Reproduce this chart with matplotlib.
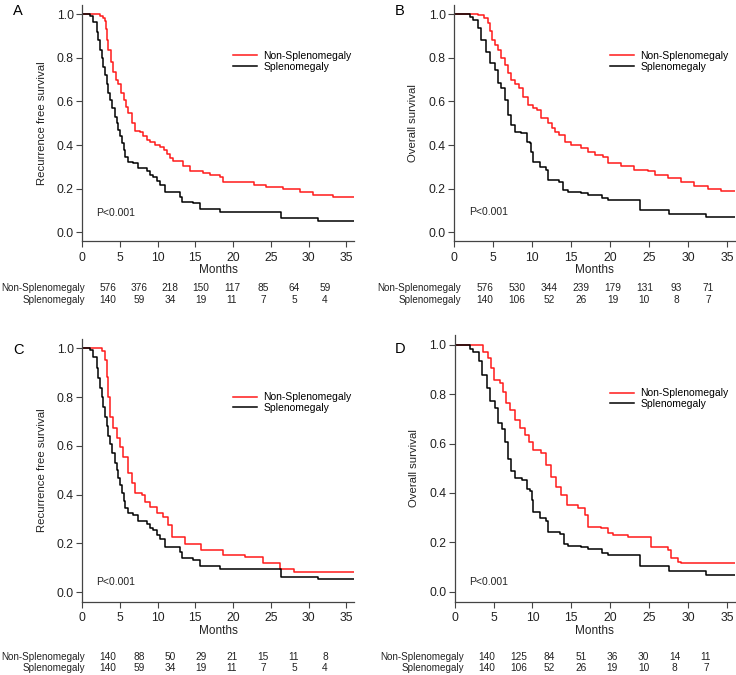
import matplotlib
matplotlib.use('Agg')
import matplotlib.pyplot as plt
import numpy as np

plt.rcParams['font.family'] = ['Liberation Sans', 'DejaVu Sans']

# --- Kaplan-Meier step data (months, survival) ---
# A: RFS, all patients, Non-Splenomegaly
rfs_non_all_t = [0, 2.4, 2.8, 3.0, 3.2, 3.35, 3.5, 3.8, 4.1, 4.5, 4.8, 5.2, 5.5, 5.8, 6.1, 6.6, 7.0, 7.7,
                 8.1, 8.6, 9.0, 9.7, 10.3, 10.8, 11.2, 11.7, 12.1, 13.4, 14.3, 16.0, 17.0, 18.3, 18.7,
                 20.9, 22.7, 24.4, 26.6, 28.8, 30.6, 33.2]
rfs_non_all_s = [1.0, 0.99, 0.98, 0.97, 0.93, 0.88, 0.835, 0.78, 0.736, 0.70, 0.68, 0.64, 0.606, 0.575,
                 0.545, 0.50, 0.466, 0.46, 0.44, 0.425, 0.415, 0.40, 0.39, 0.375, 0.36, 0.34, 0.325,
                 0.305, 0.28, 0.27, 0.262, 0.255, 0.232, 0.229, 0.217, 0.209, 0.197, 0.186, 0.171, 0.163]
# A / C: RFS, Splenomegaly
rfs_sp_t = [0, 1.06, 1.5, 1.94, 2.15, 2.38, 2.6, 2.8, 3.0, 3.26, 3.5, 3.7, 4.0, 4.37, 4.6, 4.8, 5.0,
            5.25, 5.5, 5.7, 6.1, 6.8, 7.45, 8.55, 9.0, 9.4, 9.9, 10.3, 11.0, 13.0, 13.2, 14.7, 15.6,
            18.3, 26.4, 31.3]
rfs_sp_s = [1.0, 0.993, 0.965, 0.919, 0.88, 0.835, 0.80, 0.759, 0.72, 0.68, 0.64, 0.606, 0.57, 0.53,
            0.50, 0.469, 0.44, 0.408, 0.375, 0.347, 0.324, 0.316, 0.293, 0.28, 0.265, 0.255, 0.235,
            0.217, 0.186, 0.163, 0.14, 0.133, 0.107, 0.095, 0.064, 0.053]
# B: OS, all patients, Non-Splenomegaly
os_non_all_t = [0, 3.07, 3.9, 4.3, 4.6, 4.9, 5.2, 5.6, 6.06, 6.5, 6.9, 7.3, 7.8, 8.3, 8.8, 9.5, 10.1,
                10.6, 11.2, 12.0, 12.5, 12.9, 13.5, 14.2, 15.0, 16.3, 17.2, 18.0, 19.1, 19.7, 21.4,
                23.1, 24.8, 25.7, 27.4, 29.1, 30.8, 32.5, 34.2]
os_non_all_s = [1.0, 0.995, 0.98, 0.957, 0.92, 0.88, 0.86, 0.835, 0.80, 0.766, 0.73, 0.698, 0.68,
                0.66, 0.62, 0.583, 0.57, 0.56, 0.522, 0.50, 0.476, 0.46, 0.446, 0.415, 0.40, 0.385,
                0.369, 0.354, 0.347, 0.316, 0.305, 0.285, 0.282, 0.263, 0.247, 0.229, 0.214, 0.2, 0.19]
# B / D: OS, Splenomegaly
os_sp_t = [0, 2.0, 2.4, 3.07, 3.5, 4.1, 4.6, 5.2, 5.6, 6.06, 6.5, 6.9, 7.3, 7.8, 8.6, 9.3, 9.7, 9.9,
           10.1, 11.0, 11.8, 12.0, 13.5, 14.0, 14.6, 16.3, 17.2, 18.9, 19.7, 23.8, 27.6, 32.3]
os_sp_s = [1.0, 0.985, 0.972, 0.934, 0.88, 0.827, 0.774, 0.743, 0.682, 0.66, 0.606, 0.537, 0.49,
           0.46, 0.453, 0.415, 0.408, 0.37, 0.324, 0.30, 0.285, 0.24, 0.232, 0.194, 0.183, 0.179,
           0.171, 0.156, 0.148, 0.102, 0.082, 0.069]
# C: RFS, matched, Non-Splenomegaly
rfs_non_m_t = [0, 2.6, 3.04, 3.26, 3.48, 3.7, 4.14, 4.6, 5.0, 5.47, 6.13, 6.57, 7.0, 7.9, 8.3, 9.0,
               9.9, 10.76, 11.4, 11.86, 13.6, 15.8, 18.7, 21.6, 24.0, 26.2, 28.0]
rfs_non_m_s = [1.0, 0.99, 0.952, 0.884, 0.80, 0.72, 0.672, 0.63, 0.597, 0.556, 0.487, 0.446, 0.405,
               0.40, 0.371, 0.35, 0.323, 0.31, 0.275, 0.228, 0.197, 0.173, 0.152, 0.146, 0.118,
               0.095, 0.084]
# D: OS, matched, Non-Splenomegaly
os_non_m_t = [0, 3.6, 4.28, 4.7, 5.05, 5.78, 6.2, 6.6, 7.06, 7.7, 8.34, 9.0, 9.6, 10.06, 11.1, 11.8,
              12.4, 13.05, 13.7, 14.5, 15.8, 16.7, 17.1, 18.8, 19.7, 20.3, 22.25, 25.2, 27.4, 27.8,
              28.7, 29.1]
os_non_m_s = [1.0, 0.973, 0.946, 0.905, 0.858, 0.845, 0.811, 0.764, 0.736, 0.696, 0.662, 0.635,
              0.608, 0.574, 0.561, 0.514, 0.466, 0.426, 0.392, 0.351, 0.338, 0.311, 0.264, 0.257,
              0.236, 0.23, 0.223, 0.182, 0.169, 0.135, 0.122, 0.115]

# numbers at risk at 0, 5, ..., 35 months
risk_times = [0, 5, 10, 15, 20, 25, 30, 35]
risk_A_non = [576, 376, 218, 150, 117, 85, 64, 59]
risk_A_sp = [140, 59, 34, 19, 11, 7, 5, 4]
risk_B_non = [576, 530, 344, 239, 179, 131, 93, 71]
risk_B_sp = [140, 106, 52, 26, 19, 10, 8, 7]
risk_C_non = [140, 88, 50, 29, 21, 15, 11, 8]
risk_C_sp = [140, 59, 34, 19, 11, 7, 5, 4]
risk_D_non = [140, 125, 84, 51, 36, 30, 14, 11]
risk_D_sp = [140, 106, 52, 26, 19, 10, 8, 7]

W, H = 736, 675
fig = plt.figure(figsize=(W / 100, H / 100), dpi=100)

def px(x0, top, x1, bottom):
    return [x0 / W, 1 - bottom / H, (x1 - x0) / W, (bottom - top) / H]

axcol = '#444444'
txtcol = '#222222'
red = '#ff1a1a'

def km_panel(rect, letter, letter_xy, ylabel, red_curve, black_curve, leg_y, p_y,
             risk, risk_x, label_x, rows_y):
    ax = fig.add_axes(px(*rect))
    for (t, s), col, lab in ((red_curve, red, 'Non-Splenomegaly'),
                             (black_curve, 'black', 'Splenomegaly')):
        tt = list(t) + [36]
        ss = list(s) + [s[-1]]
        ax.step(tt, ss, where='post', color=col, lw=1.1, label=lab)
    ax.set_xlim(0, 36)
    ax.set_ylim(-0.04, 1.04)
    ax.set_xticks(range(0, 36, 5))
    ax.set_yticks(np.arange(0, 1.01, 0.2))
    ax.set_yticklabels(['%.1f' % v for v in np.arange(0, 1.01, 0.2)])
    for sp in ('top', 'right'):
        ax.spines[sp].set_visible(False)
    for sp in ('left', 'bottom'):
        ax.spines[sp].set_color(axcol)
        ax.spines[sp].set_linewidth(0.9)
    ax.tick_params(direction='out', length=4, width=0.8, color=axcol,
                   labelsize=8.8, labelcolor=txtcol, pad=2)
    ax.tick_params(axis='x', pad=3.5)
    ax.set_xlabel('Months', fontsize=8.5, color=txtcol, labelpad=0.5)
    ax.set_ylabel(ylabel, fontsize=8.2, color=txtcol)
    ax.yaxis.set_label_coords(-0.128, 0.5)
    ax.text(0.053, p_y, 'P<0.001', transform=ax.transAxes, fontsize=7.5,
            color=txtcol, va='center', ha='left')
    ax.legend(loc='upper left', bbox_to_anchor=(0.555, leg_y), frameon=False,
              fontsize=7.5, handlelength=2.3, handletextpad=0.6, labelspacing=0.05,
              borderpad=0, borderaxespad=0)
    fig.text(letter_xy[0] / W, 1 - letter_xy[1] / H, letter, fontsize=10.5,
             va='center', ha='center')

    # numbers-at-risk table
    rax = fig.add_axes(px(risk_x[0], rows_y[0] - 10, risk_x[1], rows_y[1] + 10))
    rax.set_xlim(0, 35)
    rax.set_ylim(rows_y[1] + 10, rows_y[0] - 10)
    rax.axis('off')
    for row, yy in zip(risk, rows_y):
        for t, n in zip(risk_times, row):
            rax.text(t, yy, str(n), fontsize=7.3, ha='center', va='center', color=txtcol)
    for name, yy in zip(('Non-Splenomegaly', 'Splenomegaly'), rows_y):
        fig.text(label_x / W, 1 - yy / H, name, fontsize=7.1, ha='right', va='center',
                 color=txtcol)
    return ax

km_panel((82, 5.3, 354, 241.1), 'A', (18, 11), 'Recurrence free survival',
         (rfs_non_all_t, rfs_non_all_s), (rfs_sp_t, rfs_sp_s), 0.806, 0.119,
         (risk_A_non, risk_A_sp), (108, 325), 85, (288, 300))
km_panel((454, 5.3, 735, 241.1), 'B', (400, 11), 'Overall survival',
         (os_non_all_t, os_non_all_s), (os_sp_t, os_sp_s), 0.806, 0.122,
         (risk_B_non, risk_B_sp), (485, 708), 461, (288, 300))
km_panel((82, 338.5, 354, 601.9), 'C', (18, 350), 'Recurrence free survival',
         (rfs_non_m_t, rfs_non_m_s), (rfs_sp_t, rfs_sp_s), 0.795, 0.074,
         (risk_C_non, risk_C_sp), (108, 325), 85, (656.7, 667.7))
km_panel((454.7, 335.1, 734.7, 601.5), 'D', (400, 349), 'Overall survival',
         (os_non_m_t, os_non_m_s), (os_sp_t, os_sp_s), 0.80, 0.072,
         (risk_D_non, risk_D_sp), (487, 706), 464, (656.7, 667.7))

fig.savefig('out.png', dpi=100)
